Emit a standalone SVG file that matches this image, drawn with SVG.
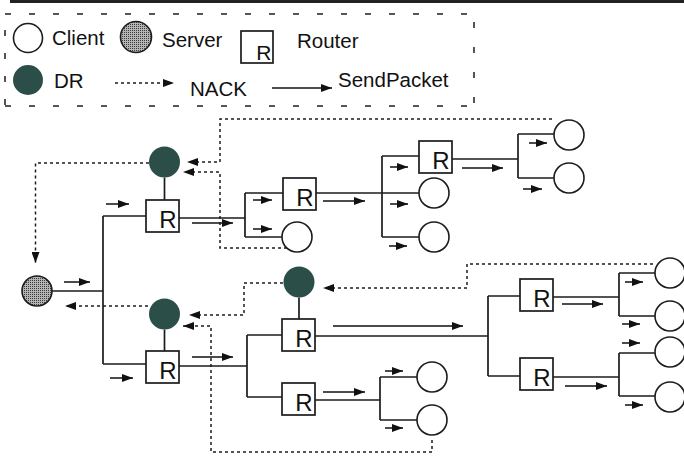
<svg xmlns="http://www.w3.org/2000/svg" width="684" height="458" viewBox="0 0 684 458">
  <defs>
    <style>
      .ln { stroke: #1c1c1c; stroke-width: 1.7; fill: none; }
      .nack { stroke: #1c1c1c; stroke-width: 1.5; stroke-dasharray: 3 3; fill: none; }
      .sp { stroke: #111; stroke-width: 1.5; fill: none; marker-end: url(#head); }
      .nk { marker-end: url(#head); }
      .client { fill: #fff; stroke: #1c1c1c; stroke-width: 1.6; }
      .server { fill: url(#stipple); stroke: #1c1c1c; stroke-width: 1.6; }
      .dr { fill: #2c4e49; }
      .router rect { fill: #fff; stroke: #1c1c1c; stroke-width: 1.7; }
      .rl { font-family: "Liberation Sans", Arial, sans-serif; font-size: 24px; fill: #111; text-anchor: end; }
      .lt { font-family: "Liberation Sans", Arial, sans-serif; font-size: 20.5px; fill: #111; }
      .box { stroke: #1c1c1c; stroke-width: 1.5; fill: none; }
    </style>
    <marker id="head" markerUnits="userSpaceOnUse" markerWidth="11" markerHeight="8" refX="11" refY="4" orient="auto">
      <path d="M0,0 L11,4 L0,8 z" fill="#111"/>
    </marker>
    <pattern id="stipple" width="2" height="2" patternUnits="userSpaceOnUse">
      <rect width="2" height="2" fill="#b4b4b4"/>
      <rect width="1" height="1" fill="#3c3c3c"/>
    </pattern>
  </defs>

  <rect width="684" height="458" fill="#fff"/>

  <!-- rule across the top -->
  <line x1="10" y1="1.5" x2="684" y2="1.5" stroke="#222" stroke-width="3"/>

  <!-- legend -->
  <g id="legend">
    <line class="box" x1="5" y1="14" x2="474" y2="14" stroke-dasharray="6 18"/>
    <line class="box" x1="5" y1="106" x2="474" y2="106" stroke-dasharray="6 18"/>
    <line class="box" x1="5" y1="14" x2="5" y2="106" stroke-dasharray="6 17" stroke-dashoffset="7"/>
    <line class="box" x1="474" y1="14" x2="474" y2="106" stroke-dasharray="6 19" stroke-dashoffset="17"/>
    <circle class="client" cx="28" cy="38" r="14.5"/>
    <text class="lt" x="52" y="45">Client</text>
    <circle class="server" cx="136" cy="37" r="15.5"/>
    <text class="lt" x="162" y="47">Server</text>
    <g class="router">
      <rect x="241" y="31" width="32" height="32"/>
      <text class="rl" x="271.5" y="60" style="font-size:21px">R</text>
    </g>
    <text class="lt" x="297" y="48">Router</text>
    <circle class="dr" cx="28" cy="80" r="15"/>
    <text class="lt" x="54" y="88">DR</text>
    <line class="nack nk" x1="115" y1="83" x2="174" y2="83"/>
    <text class="lt" x="190" y="96">NACK</text>
    <line class="sp" x1="272" y1="88" x2="332" y2="88"/>
    <text class="lt" x="338" y="87">SendPacket</text>
  </g>

  <!-- links, packet flow and NACK paths -->
  <g id="connectors">
    <!-- tree links -->
    <path class="ln" d="M52,291 H103 M103,216 V364 M103,216 H146 M103,364 H146"/>
    <path class="ln" d="M164.5,177.5 V200 M179,218 H245 M245,193 V237 M245,193 H283 M245,237 H282"/>
    <path class="ln" d="M316,193 H419 M382,156 V237 M382,156 H419 M382,237 H419"/>
    <path class="ln" d="M452,159 H518 M518,134 V178 M518,134 H554 M518,178 H554"/>
    <path class="ln" d="M164.5,329.5 V351 M179,366 H247 M247,335 V397 M247,335 H282 M247,397 H282"/>
    <path class="ln" d="M299,297.5 V319 M315,336 H488 M488,296 V376 M488,296 H520 M488,376 H520"/>
    <path class="ln" d="M553,297 H619 M619,273 V316 M619,273 H655 M619,316 H655"/>
    <path class="ln" d="M553,377 H619 M619,353 V396 M619,353 H655 M619,396 H655"/>
    <path class="ln" d="M315,400 H380 M380,377 V420 M380,377 H417 M380,420 H417"/>

    <!-- SendPacket arrows -->
    <line class="sp" x1="64" y1="282" x2="90" y2="282"/>
    <line class="sp" x1="106" y1="204" x2="129" y2="204"/>
    <line class="sp" x1="110" y1="378" x2="133" y2="378"/>
    <line class="sp" x1="192" y1="223" x2="233" y2="223"/>
    <line class="sp" x1="192" y1="357" x2="233" y2="357"/>
    <line class="sp" x1="253" y1="200" x2="272" y2="200"/>
    <line class="sp" x1="253" y1="229" x2="272" y2="229"/>
    <line class="sp" x1="323" y1="201" x2="365" y2="201"/>
    <line class="sp" x1="390" y1="167" x2="408" y2="167"/>
    <line class="sp" x1="390" y1="204" x2="408" y2="204"/>
    <line class="sp" x1="389" y1="246" x2="407" y2="246"/>
    <line class="sp" x1="462" y1="168" x2="503" y2="168"/>
    <line class="sp" x1="529" y1="143" x2="547" y2="143"/>
    <line class="sp" x1="523" y1="189" x2="542" y2="189"/>
    <line class="sp" x1="333" y1="326" x2="463" y2="326"/>
    <line class="sp" x1="323" y1="392" x2="365" y2="392"/>
    <line class="sp" x1="385" y1="371" x2="403" y2="371"/>
    <line class="sp" x1="385" y1="428" x2="403" y2="428"/>
    <line class="sp" x1="562" y1="304" x2="603" y2="304"/>
    <line class="sp" x1="565" y1="386" x2="607" y2="386"/>
    <line class="sp" x1="625" y1="282" x2="643" y2="282"/>
    <line class="sp" x1="622" y1="324" x2="640" y2="324"/>
    <line class="sp" x1="622" y1="343" x2="640" y2="343"/>
    <line class="sp" x1="625" y1="405" x2="643" y2="405"/>

    <!-- NACK paths -->
    <polyline class="nack nk" points="552,119 220,119 220,162 187,162"/>
    <polyline class="nack nk" points="287,248 220,248 220,172 183,172"/>
    <polyline class="nack nk" points="149,163 35.5,163 35.5,263"/>
    <polyline class="nack nk" points="148,306 65,306"/>
    <polyline class="nack nk" points="283,283 244,283 244,315 189,315"/>
    <polyline class="nack nk" points="432,440 432,452 211,452 211,326 183,326"/>
    <polyline class="nack nk" points="653,264 467,264 467,288 323,288"/>
  </g>

  <!-- server -->
  <g id="server"><circle class="server" cx="37" cy="291" r="15"/></g>

  <!-- designated receivers -->
  <g id="dr1"><circle class="dr" cx="164.5" cy="162" r="15.5"/></g>
  <g id="dr2"><circle class="dr" cx="164.5" cy="314" r="15.5"/></g>
  <g id="dr3"><circle class="dr" cx="299" cy="282" r="15.5"/></g>

  <!-- routers -->
  <g id="r1" class="router"><rect x="146" y="200" width="33" height="32"/><text class="rl" x="176.5" y="228">R</text></g>
  <g id="r2" class="router"><rect x="283" y="178" width="33" height="32"/><text class="rl" x="313.5" y="206">R</text></g>
  <g id="r3" class="router"><rect x="419" y="141" width="33" height="32"/><text class="rl" x="449.5" y="169">R</text></g>
  <g id="r4" class="router"><rect x="146" y="351" width="33" height="32"/><text class="rl" x="176.5" y="379">R</text></g>
  <g id="r5" class="router"><rect x="282" y="319" width="33" height="32"/><text class="rl" x="312.5" y="347">R</text></g>
  <g id="r6" class="router"><rect x="282" y="383" width="33" height="32"/><text class="rl" x="312.5" y="411">R</text></g>
  <g id="r7" class="router"><rect x="520" y="279" width="33" height="32"/><text class="rl" x="550.5" y="307">R</text></g>
  <g id="r8" class="router"><rect x="520" y="358" width="33" height="32"/><text class="rl" x="550.5" y="386">R</text></g>

  <!-- clients -->
  <g id="c1"><circle class="client" cx="297" cy="237" r="15"/></g>
  <g id="c2"><circle class="client" cx="434" cy="193" r="15"/></g>
  <g id="c3"><circle class="client" cx="434" cy="237" r="15"/></g>
  <g id="c4"><circle class="client" cx="569" cy="135" r="15"/></g>
  <g id="c5"><circle class="client" cx="569" cy="178" r="15"/></g>
  <g id="c6"><circle class="client" cx="432" cy="377" r="15"/></g>
  <g id="c7"><circle class="client" cx="432" cy="420" r="15"/></g>
  <g id="c8"><circle class="client" cx="670" cy="273" r="15"/></g>
  <g id="c9"><circle class="client" cx="670" cy="316" r="15"/></g>
  <g id="c10"><circle class="client" cx="670" cy="352" r="15"/></g>
  <g id="c11"><circle class="client" cx="670" cy="397" r="15"/></g>
</svg>
